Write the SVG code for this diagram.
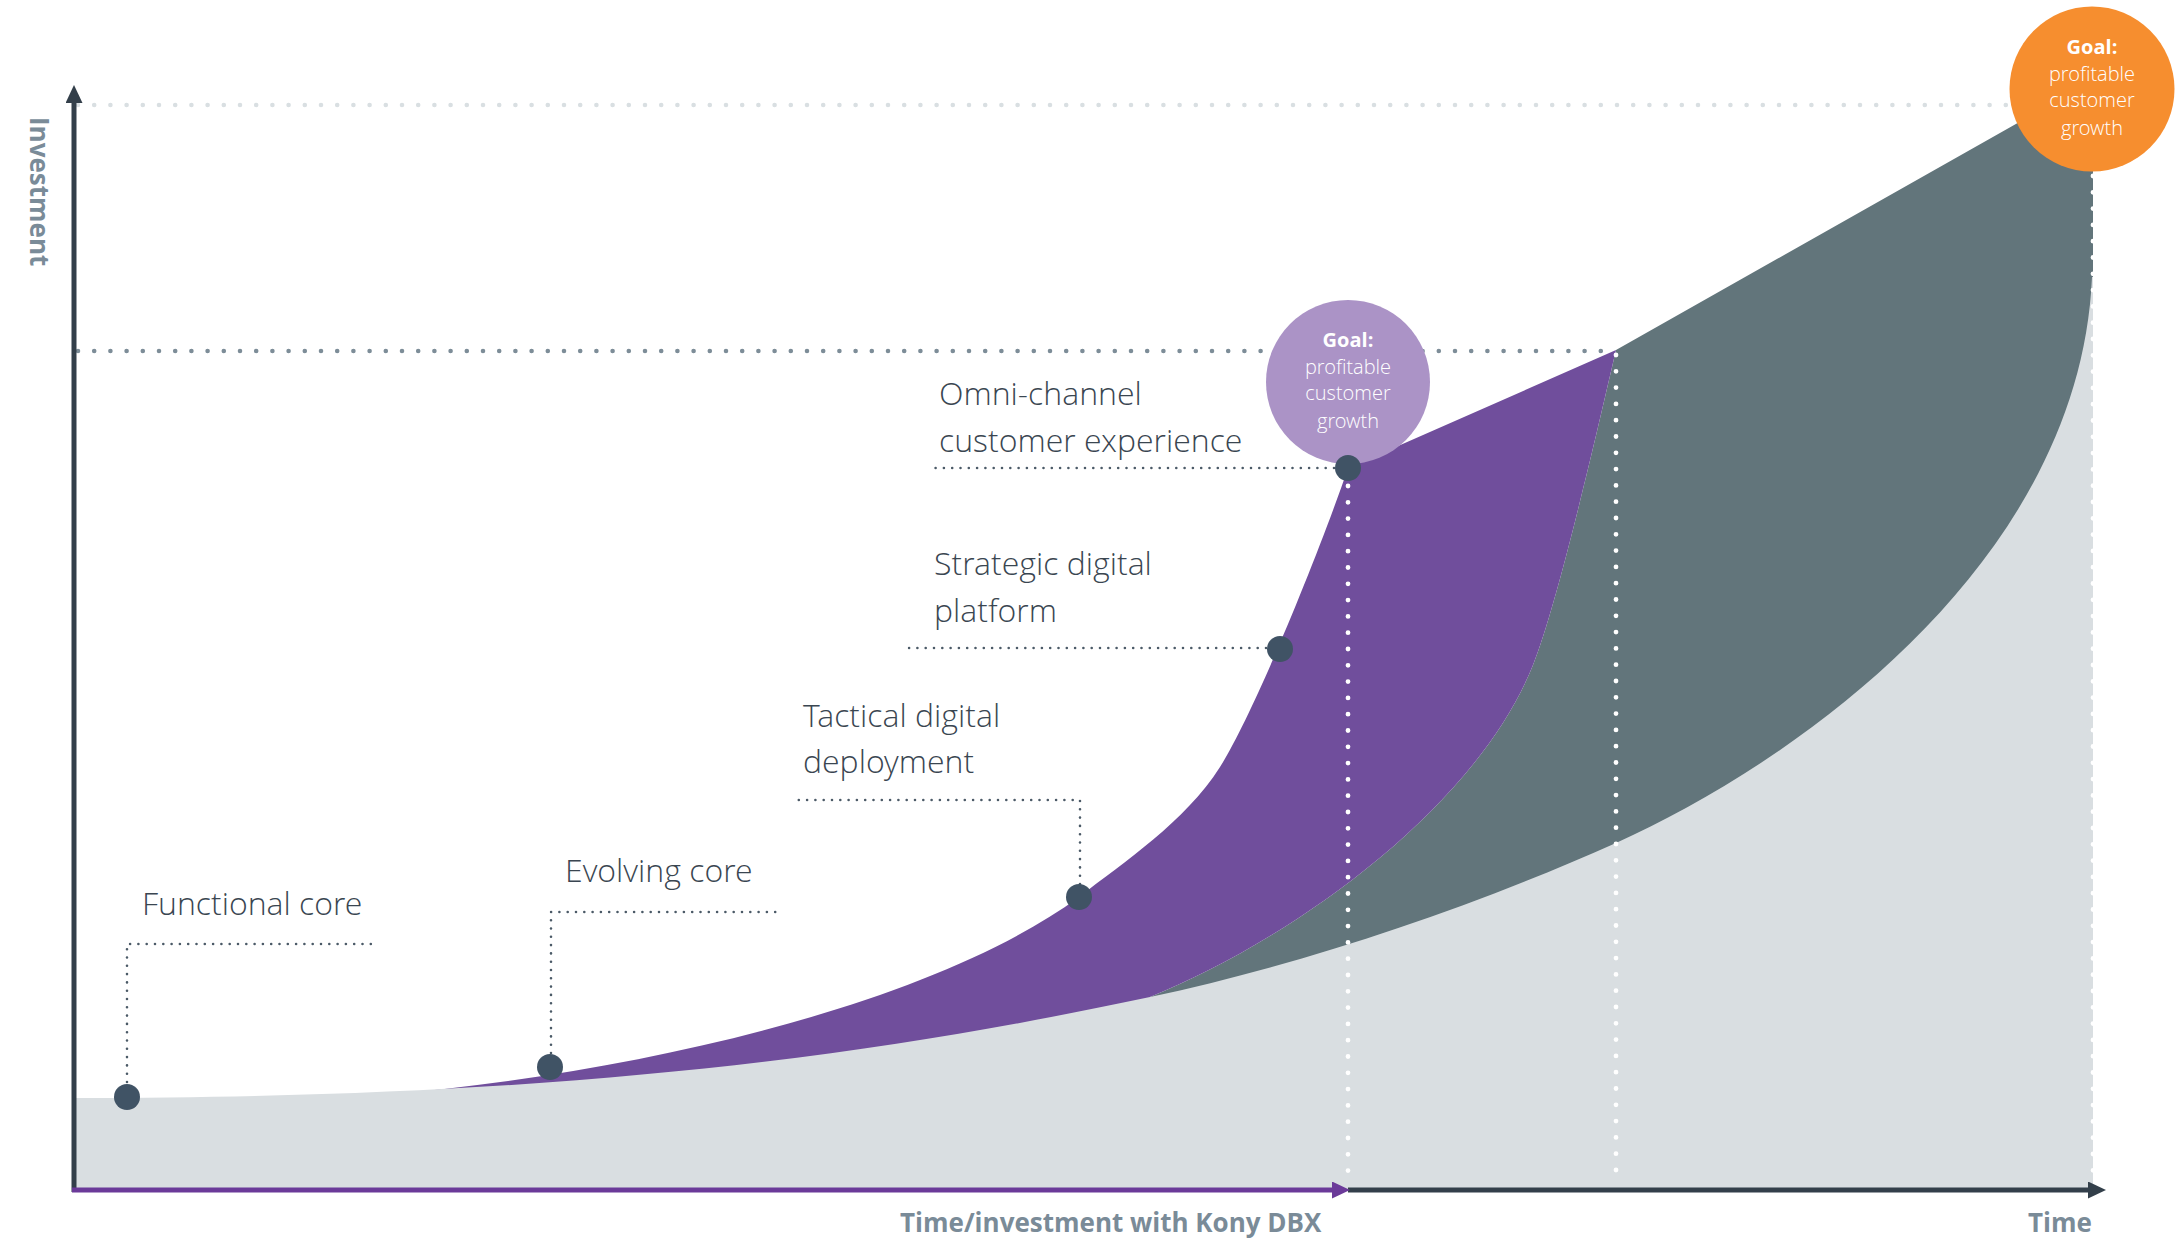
<svg xmlns="http://www.w3.org/2000/svg" width="2184" height="1238" viewBox="0 0 2184 1238">
  <style>
    .label { font-family: "Open Sans Light", "Open Sans", "Liberation Sans", sans-serif; font-weight: 300; font-size: 32px; fill: #3a4651; }
    .axis-title { font-family: "Open Sans", "Liberation Sans", sans-serif; font-weight: 700; font-size: 26px; fill: #7a8b98; }
    .goal { font-family: "Open Sans Light", "Open Sans", "Liberation Sans", sans-serif; font-weight: 300; font-size: 20px; fill: #ffffff; text-anchor: middle; }
    .goal .head { font-family: "Open Sans", "Liberation Sans", sans-serif; font-weight: 700; }
    .leader { fill: none; stroke: #4b5a67; stroke-width: 2.6; stroke-dasharray: 0 8.3; stroke-linecap: round; }
    .level-dark { fill: none; stroke: #7d8d98; stroke-width: 4.6; stroke-dasharray: 0 16.2; stroke-linecap: round; }
    .level-light { fill: none; stroke: #d9dfe2; stroke-width: 4.6; stroke-dasharray: 0 16.2; stroke-linecap: round; }
    .drop { fill: none; stroke: #ffffff; stroke-width: 4.8; stroke-dasharray: 0 16.3; stroke-linecap: round; }
    .marker-dot { fill: #405365; }
  </style>
  <defs>
    <marker id="head-dark" viewBox="0 0 18 17" markerWidth="18" markerHeight="17" refX="0" refY="8.5" orient="auto" markerUnits="userSpaceOnUse">
      <path d="M0,0 L18,8.5 L0,17 Z" fill="#333f4a"/>
    </marker>
    <marker id="head-purple" viewBox="0 0 18 17" markerWidth="18" markerHeight="17" refX="0" refY="8.5" orient="auto" markerUnits="userSpaceOnUse">
      <path d="M0,0 L18,8.5 L0,17 Z" fill="#6b3a99"/>
    </marker>
  </defs>

  <rect width="2184" height="1238" fill="#ffffff"/>

  <!-- target levels -->
  <g id="levels">
    <line class="level-light" x1="78" y1="105" x2="2012" y2="105"/>
    <line class="level-dark" x1="78" y1="351" x2="1612" y2="351"/>
  </g>

  <!-- stacked investment areas -->
  <g id="areas">
    <path id="area-platform" fill="#62757b" d="M1150,997 C1280,945 1473,815 1533,665 C1558,602 1596,436 1616,350 L2062,98 L2093,98 L2093,1000 Z"/>
    <path id="area-dbx" fill="#704e9c" d="M380,1095 C640,1074 935,1003 1079,897 C1124,862 1185,822 1220,767 C1255,712 1322,545 1348,468 L1616,350 C1596,436 1558,602 1533,665 C1473,815 1280,945 1150,997 L1150,1100 L380,1100 Z"/>
    <path id="area-core" fill="#d9dee1" d="M76,1098 C600,1098 900,1050 1150,997 C1300,965 1466,910 1616,843 C1800,760 2080,560 2092,277 L2093,277 L2093,1190 L76,1190 Z"/>
  </g>

  <!-- vertical drop lines -->
  <g id="drops">
    <line class="drop" x1="1348" y1="486" x2="1348" y2="1180"/>
    <line class="drop" x1="1616" y1="355" x2="1616" y2="1180"/>
    <line class="drop" x1="2093" y1="176" x2="2093" y2="1180"/>
  </g>

  <!-- axes -->
  <g id="axes">
    <line x1="74" y1="1192" x2="74" y2="103" stroke="#333f4a" stroke-width="5" marker-end="url(#head-dark)"/>
    <line x1="1348" y1="1190" x2="2088" y2="1190" stroke="#333f4a" stroke-width="5" marker-end="url(#head-dark)"/>
    <line x1="72" y1="1190" x2="1332" y2="1190" stroke="#6b3a99" stroke-width="5" marker-end="url(#head-purple)"/>
    <text class="axis-title" transform="translate(30,117) rotate(90)">Investment</text>
    <text class="axis-title" x="900" y="1232">Time/investment with Kony DBX</text>
    <text class="axis-title" x="2028" y="1232">Time</text>
  </g>

  <!-- leader lines from stage markers to their labels -->
  <g id="connectors">
    <path class="leader" d="M127,1082 L127,944 L373,944"/>
    <path class="leader" d="M551,1053 L551,912 L776,912"/>
    <path class="leader" d="M1080,884 L1080,800 L797,800"/>
    <path class="leader" d="M1266,648 L908,648"/>
    <path class="leader" d="M1334,468 L932,468"/>
  </g>

  <!-- stages -->
  <g id="stage-functional-core">
    <circle class="marker-dot" cx="127" cy="1097" r="13"/>
    <text class="label" x="142" y="915">Functional core</text>
  </g>
  <g id="stage-evolving-core">
    <circle class="marker-dot" cx="550" cy="1067" r="13"/>
    <text class="label" x="565" y="882">Evolving core</text>
  </g>
  <g id="stage-tactical">
    <circle class="marker-dot" cx="1079" cy="897" r="13"/>
    <text class="label" x="803" y="727">Tactical digital</text>
    <text class="label" x="803" y="773">deployment</text>
  </g>
  <g id="stage-strategic">
    <circle class="marker-dot" cx="1280" cy="649" r="13"/>
    <text class="label" x="934" y="575">Strategic digital</text>
    <text class="label" x="934" y="622">platform</text>
  </g>

  <!-- goal reached with Kony DBX -->
  <g id="goal-dbx">
    <circle cx="1348" cy="382" r="82" fill="#ab93c6"/>
    <text class="goal" x="1348" y="347"><tspan class="head">Goal:</tspan></text>
    <text class="goal" x="1348" y="374">profitable</text>
    <text class="goal" x="1348" y="400">customer</text>
    <text class="goal" x="1348" y="428">growth</text>
  </g>
  <g id="stage-omni-channel">
    <circle class="marker-dot" cx="1348" cy="468" r="13"/>
    <text class="label" x="939" y="405">Omni-channel</text>
    <text class="label" x="939" y="452">customer experience</text>
  </g>

  <!-- goal reached over time -->
  <g id="goal-time">
    <circle cx="2092" cy="89" r="82.5" fill="#f68e2f"/>
    <text class="goal" x="2092" y="54"><tspan class="head">Goal:</tspan></text>
    <text class="goal" x="2092" y="81">profitable</text>
    <text class="goal" x="2092" y="107">customer</text>
    <text class="goal" x="2092" y="135">growth</text>
  </g>
</svg>
